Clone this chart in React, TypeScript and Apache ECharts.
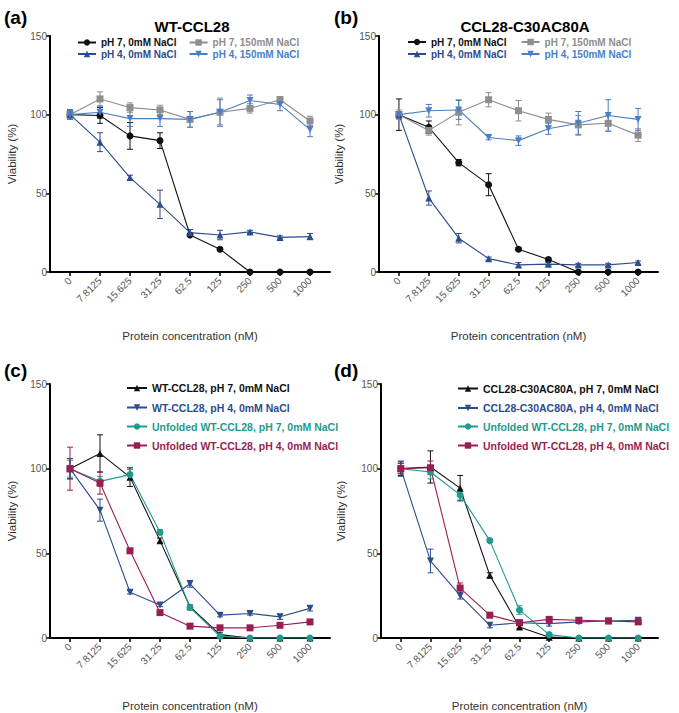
import React, { useEffect, useRef } from "react";
import * as echarts from "echarts";

const categories = ["0", "7.8125", "15.625", "31.25", "62.5", "125", "250", "500", "1000"];
const yTicks = [0, 50, 100, 150];

// Panel (a) WT-CCL28
const aPh7_0 = [100, 99.5, 86.5, 83.5, 23.5, 14.5, 0, 0, 0];
const aPh7_0Err = [3, 5, 8.5, 5, 1, 1, 0.5, 0.5, 0.5];
const aPh7_150 = [100, 110, 104.5, 103, 97, 101.5, 104, 109.5, 96];
const aPh7_150Err = [3, 4.5, 3, 3, 5, 9, 3, 2, 3];
const aPh4_0 = [100, 82.5, 60, 43, 25, 23.5, 25.5, 22, 22.5];
const aPh4_0Err = [3, 6, 1.5, 9, 2, 3, 1, 1, 2];
const aPh4_150 = [100, 101.5, 97.5, 97.5, 97, 101.5, 109, 106.5, 90.5];
const aPh4_150Err = [3, 4, 5, 5, 5, 8, 3.5, 4, 4.5];

// Panel (b) CCL28-C30AC80A
const bPh7_0 = [100, 92, 69.5, 55.5, 14.5, 8, 0, 0, 0];
const bPh7_0Err = [10, 4, 2, 7, 1, 1, 0.5, 0.5, 0.5];
const bPh7_150 = [100, 90, 101.5, 109.5, 102.5, 97, 93.5, 94.5, 87];
const bPh7_150Err = [3, 3, 8, 4.5, 6.5, 4, 6, 5, 4];
const bPh4_0 = [100, 47, 21.5, 8.5, 4.5, 5, 4.5, 4.5, 6];
const bPh4_0Err = [2, 4.5, 3, 1, 1.5, 1, 1, 1, 1];
const bPh4_150 = [100, 102.5, 103, 85.5, 83.5, 91, 94.5, 99.5, 97];
const bPh4_150Err = [2, 4, 6, 1.5, 3, 3.5, 7.5, 10, 7];

// Panel (c)
const cWt7 = [100, 109, 95, 57.5, 18.5, 2, 0, 0, 0];
const cWt7Err = [6, 11, 5.5, 1.5, 1, 1, 0.5, 0.5, 0.5];
const cWt4 = [100, 75.5, 27, 19.5, 32, 13.5, 14.5, 12.5, 17.5];
const cWt4Err = [6, 6.5, 1, 1, 2, 1, 1, 1.5, 1.5];
const cUnf7 = [100, 92.5, 96.5, 62.5, 18, 1, 0, 0, 0];
const cUnf7Err = [5, 3, 3, 1.5, 1, 0.5, 0.5, 0.5, 0.5];
const cUnf4 = [100, 91.5, 51.5, 15, 7, 6, 6, 7.5, 9.5];
const cUnf4Err = [12.7, 6.5, 1, 1, 1, 1, 1, 1, 1];

// Panel (d)
const dMut7 = [100, 101, 88.5, 37, 6.5, 0.5, 0, 0, 0];
const dMut7Err = [4, 9.5, 7.5, 1.5, 1, 0.5, 0.5, 0.5, 0.5];
const dMut4 = [100, 45.5, 25, 7.5, 9, 8.5, 9.5, 10, 10.5];
const dMut4Err = [4.5, 7, 2, 1.5, 1, 1.5, 1, 1, 1.5];
const dUnf7 = [100, 98, 84.5, 57.5, 16.5, 2, 0, 0, 0];
const dUnf7Err = [3, 4, 3, 1, 2.5, 0.5, 0.5, 0.5, 0.5];
const dUnf4 = [100, 100.5, 29.5, 13.5, 9, 11, 10.5, 10, 9.5];
const dUnf4Err = [3, 4, 3, 1.5, 1, 1.5, 1, 1, 1];

const FONT = "'Liberation Sans', Arial, Helvetica, sans-serif";
const BLACK = "#111111";
const GRAY = "#8e8e8e";
const DBLUE = "#2c4c8e";
const LBLUE = "#4a7fc7";
const TEAL = "#1f9a8c";
const MAROON = "#9a1d52";
const DOWN_TRI = "path://M0,0L10,0L5,9Z";

type S = { name: string; vals: number[]; err: number[]; color: string; symbol: string; size: number };

const panels: { grid: any; nameGap: number; yGap: number; series: S[] }[] = [
  {
    grid: { left: 50, top: 36, width: 280, height: 236 },
    nameGap: 58,
    yGap: 32,
    series: [
      { name: "pH 7, 0mM NaCl", vals: aPh7_0, err: aPh7_0Err, color: BLACK, symbol: "circle", size: 7 },
      { name: "pH 7, 150mM NaCl", vals: aPh7_150, err: aPh7_150Err, color: GRAY, symbol: "rect", size: 7 },
      { name: "pH 4, 0mM NaCl", vals: aPh4_0, err: aPh4_0Err, color: DBLUE, symbol: "triangle", size: 7 },
      { name: "pH 4, 150mM NaCl", vals: aPh4_150, err: aPh4_150Err, color: LBLUE, symbol: DOWN_TRI, size: 7 },
    ],
  },
  {
    grid: { left: 379, top: 36, width: 279, height: 236 },
    nameGap: 58,
    yGap: 34,
    series: [
      { name: "pH 7, 0mM NaCl", vals: bPh7_0, err: bPh7_0Err, color: BLACK, symbol: "circle", size: 7 },
      { name: "pH 7, 150mM NaCl", vals: bPh7_150, err: bPh7_150Err, color: GRAY, symbol: "rect", size: 7 },
      { name: "pH 4, 0mM NaCl", vals: bPh4_0, err: bPh4_0Err, color: DBLUE, symbol: "triangle", size: 7 },
      { name: "pH 4, 150mM NaCl", vals: bPh4_150, err: bPh4_150Err, color: LBLUE, symbol: DOWN_TRI, size: 7 },
    ],
  },
  {
    grid: { left: 50, top: 384, width: 280, height: 256 },
    nameGap: 62,
    yGap: 32,
    series: [
      { name: "WT-CCL28, pH 7, 0mM NaCl", vals: cWt7, err: cWt7Err, color: BLACK, symbol: "triangle", size: 7 },
      { name: "WT-CCL28, pH 4, 0mM NaCl", vals: cWt4, err: cWt4Err, color: DBLUE, symbol: DOWN_TRI, size: 7 },
      { name: "Unfolded WT-CCL28, pH 7, 0mM NaCl", vals: cUnf7, err: cUnf7Err, color: TEAL, symbol: "circle", size: 7 },
      { name: "Unfolded WT-CCL28, pH 4, 0mM NaCl", vals: cUnf4, err: cUnf4Err, color: MAROON, symbol: "rect", size: 7 },
    ],
  },
  {
    grid: { left: 381, top: 384, width: 277, height: 256 },
    nameGap: 62,
    yGap: 34,
    series: [
      { name: "CCL28-C30AC80A, pH 7, 0mM NaCl", vals: dMut7, err: dMut7Err, color: BLACK, symbol: "triangle", size: 7 },
      { name: "CCL28-C30AC80A, pH 4, 0mM NaCl", vals: dMut4, err: dMut4Err, color: DBLUE, symbol: DOWN_TRI, size: 7 },
      { name: "Unfolded WT-CCL28, pH 7, 0mM NaCl", vals: dUnf7, err: dUnf7Err, color: TEAL, symbol: "circle", size: 7 },
      { name: "Unfolded WT-CCL28, pH 4, 0mM NaCl", vals: dUnf4, err: dUnf4Err, color: MAROON, symbol: "rect", size: 7 },
    ],
  },
];

function legendRow(names: { name: string; color: string }[], left: number, centerY: number, fontSize: number, itemWidth: number, gap: number) {
  return {
    left,
    top: centerY - 6,
    padding: 0,
    orient: "horizontal",
    itemWidth,
    itemHeight: 8,
    itemGap: gap,
    selectedMode: false,
    textStyle: { fontSize, fontWeight: "bold", fontFamily: FONT, lineHeight: 12 },
    data: names.map((n) => ({ name: n.name, textStyle: { color: n.color } })),
  };
}

export default function App() {
  const ref = useRef<HTMLDivElement>(null);
  useEffect(() => {
    if (!ref.current) return;
    const chart = echarts.init(ref.current, null, { renderer: "svg" });

    const xAxis: any[] = [];
    const yAxis: any[] = [];
    const series: any[] = [];
    panels.forEach((p, pi) => {
      xAxis.push({
        gridIndex: pi,
        type: "value",
        min: -2 / 3,
        max: 8 + 2 / 3,
        name: "Protein concentration (nM)",
        nameLocation: "middle",
        nameGap: p.nameGap,
        nameTextStyle: { fontSize: 11.5, color: "#333", fontFamily: FONT },
        axisLine: { show: true, onZero: false, lineStyle: { color: "#000", width: 2 } },
        axisTick: { show: true, length: 4, lineStyle: { color: "#000", width: 1.5 }, customValues: categories.map((_, i) => i) },
        axisLabel: {
          customValues: categories.map((_, i) => i),
          formatter: (v: number) => categories[Math.round(v)],
          rotate: 45,
          margin: 7,
          fontSize: 10,
          color: "#555",
          fontFamily: FONT,
        },
        splitLine: { show: false },
      });
      yAxis.push({
        gridIndex: pi,
        type: "value",
        min: 0,
        max: 150,
        interval: 50,
        name: "Viability (%)",
        nameLocation: "middle",
        nameGap: p.yGap,
        nameTextStyle: { fontSize: 11.5, color: "#333", fontFamily: FONT },
        axisLine: { show: true, onZero: false, lineStyle: { color: "#000", width: 2 } },
        axisTick: { show: true, length: 4, lineStyle: { color: "#000", width: 1.5 } },
        axisLabel: {
          fontSize: 10,
          color: "#555",
          margin: 3,
          fontFamily: FONT,
          formatter: (v: number) => (yTicks.includes(v) ? String(v) : ""),
        },
        splitLine: { show: false },
      });
      p.series.forEach((s, si) => {
        series.push({
          type: "custom",
          name: `err-${pi}-${si}`,
          xAxisIndex: pi,
          yAxisIndex: pi,
          z: 1,
          silent: true,
          encode: { x: 0, y: [1, 2] },
          data: s.vals.map((v, i) => [i, Math.max(0, v - s.err[i]), v + s.err[i]]),
          renderItem: (params: any, api: any) => {
            const x = api.value(0);
            const p1 = api.coord([x, api.value(1)]);
            const p2 = api.coord([x, api.value(2)]);
            const w = 3;
            const st = { stroke: s.color, lineWidth: 1 };
            return {
              type: "group",
              children: [
                { type: "line", shape: { x1: p1[0], y1: p1[1], x2: p2[0], y2: p2[1] }, style: st },
                { type: "line", shape: { x1: p1[0] - w, y1: p1[1], x2: p1[0] + w, y2: p1[1] }, style: st },
                { type: "line", shape: { x1: p2[0] - w, y1: p2[1], x2: p2[0] + w, y2: p2[1] }, style: st },
              ],
            };
          },
        });
        series.push({
          type: "line",
          name: s.name,
          xAxisIndex: pi,
          yAxisIndex: pi,
          z: 3,
          data: s.vals.map((v, i) => [i, v]),
          symbol: s.symbol,
          symbolSize: s.size,
          showAllSymbol: true,
          itemStyle: { color: s.color },
          lineStyle: { color: s.color, width: 1.1 },
        });
      });
    });

    const pa = panels[0].series;
    const pc = panels[2].series;
    const pd = panels[3].series;
    const legend = [
      legendRow([pa[0], pa[1]], 77, 42.5, 10, 18, 12),
      legendRow([pa[2], pa[3]], 77, 54, 10, 18, 12),
      legendRow([pa[0], pa[1]], 407, 42, 10, 18, 14),
      legendRow([pa[2], pa[3]], 407, 54, 10, 18, 14),
      legendRow([pc[0]], 126, 388, 10.5, 20, 10),
      legendRow([pc[1]], 126, 407.5, 10.5, 20, 10),
      legendRow([pc[2]], 126, 426.5, 10.5, 20, 10),
      legendRow([pc[3]], 126, 445.5, 10.5, 20, 10),
      legendRow([pd[0]], 457, 388.5, 10.5, 20, 10),
      legendRow([pd[1]], 457, 408, 10.5, 20, 10),
      legendRow([pd[2]], 457, 426.5, 10.5, 20, 10),
      legendRow([pd[3]], 457, 445.5, 10.5, 20, 10),
    ];

    const label = (text: string, x: number, y: number, size: number, align = "left") => ({
      type: "text",
      x,
      y,
      style: {
        text,
        fontSize: size,
        fontWeight: "bold",
        fontFamily: FONT,
        fill: "#000",
        align,
        verticalAlign: "middle",
      },
    });

    chart.setOption({
      animation: false,
      backgroundColor: "#fff",
      grid: panels.map((p) => p.grid),
      xAxis,
      yAxis,
      legend,
      series,
      graphic: [
        label("(a)", 4, 17, 19),
        label("(b)", 334, 17, 19),
        label("(c)", 4, 370, 19),
        label("(d)", 334, 370, 19),
        label("WT-CCL28", 192, 26, 15, "center"),
        label("CCL28-C30AC80A", 525, 26, 15, "center"),
      ],
    });
    return () => chart.dispose();
  }, []);
  return <div ref={ref} style={{ position: "absolute", left: 0, top: 0, width: 679, height: 713 }} />;
}
